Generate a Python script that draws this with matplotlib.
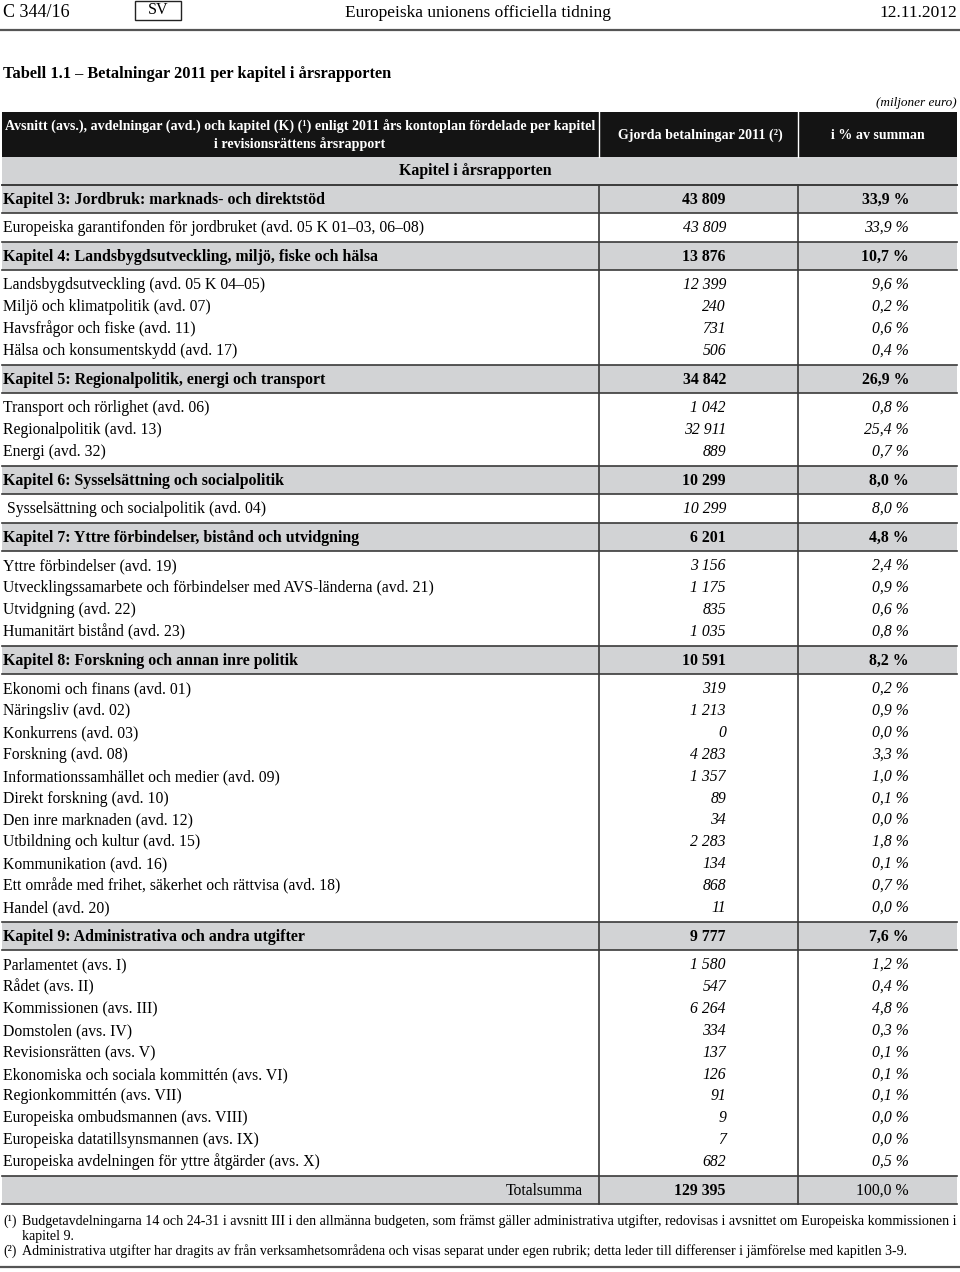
import matplotlib
matplotlib.use("Agg")
import matplotlib.pyplot as plt
from matplotlib.patches import Rectangle

plt.rcParams['font.family'] = ['Liberation Serif', 'DejaVu Serif']

# table data (miljoner euro)
chapter_names = [
    "Kapitel 3: Jordbruk: marknads- och direktstöd",
    "Kapitel 4: Landsbygdsutveckling, miljö, fiske och hälsa",
    "Kapitel 5: Regionalpolitik, energi och transport",
    "Kapitel 6: Sysselsättning och socialpolitik",
    "Kapitel 7: Yttre förbindelser, bistånd och utvidgning",
    "Kapitel 8: Forskning och annan inre politik",
    "Kapitel 9: Administrativa och andra utgifter",
]
chapter_amounts = [43809, 13876, 34842, 10299, 6201, 10591, 9777]
chapter_shares = [33.9, 10.7, 26.9, 8.0, 4.8, 8.2, 7.6]

sub_names = [
    ["Europeiska garantifonden för jordbruket (avd. 05 K 01–03, 06–08)"],
    ["Landsbygdsutveckling (avd. 05 K 04–05)",
     "Miljö och klimatpolitik (avd. 07)",
     "Havsfrågor och fiske (avd. 11)",
     "Hälsa och konsumentskydd (avd. 17)"],
    ["Transport och rörlighet (avd. 06)",
     "Regionalpolitik (avd. 13)",
     "Energi (avd. 32)"],
    [" Sysselsättning och socialpolitik (avd. 04)"],
    ["Yttre förbindelser (avd. 19)",
     "Utvecklingssamarbete och förbindelser med AVS-länderna (avd. 21)",
     "Utvidgning (avd. 22)",
     "Humanitärt bistånd (avd. 23)"],
    ["Ekonomi och finans (avd. 01)",
     "Näringsliv (avd. 02)",
     "Konkurrens (avd. 03)",
     "Forskning (avd. 08)",
     "Informationssamhället och medier (avd. 09)",
     "Direkt forskning (avd. 10)",
     "Den inre marknaden (avd. 12)",
     "Utbildning och kultur (avd. 15)",
     "Kommunikation (avd. 16)",
     "Ett område med frihet, säkerhet och rättvisa (avd. 18)",
     "Handel (avd. 20)"],
    ["Parlamentet (avs. I)",
     "Rådet (avs. II)",
     "Kommissionen (avs. III)",
     "Domstolen (avs. IV)",
     "Revisionsrätten (avs. V)",
     "Ekonomiska och sociala kommittén (avs. VI)",
     "Regionkommittén (avs. VII)",
     "Europeiska ombudsmannen (avs. VIII)",
     "Europeiska datatillsynsmannen (avs. IX)",
     "Europeiska avdelningen för yttre åtgärder (avs. X)"],
]
sub_amounts = [
    [43809],
    [12399, 240, 731, 506],
    [1042, 32911, 889],
    [10299],
    [3156, 1175, 835, 1035],
    [319, 1213, 0, 4283, 1357, 89, 34, 2283, 134, 868, 11],
    [1580, 547, 6264, 334, 137, 126, 91, 9, 7, 682],
]
sub_shares = [
    [33.9],
    [9.6, 0.2, 0.6, 0.4],
    [0.8, 25.4, 0.7],
    [8.0],
    [2.4, 0.9, 0.6, 0.8],
    [0.2, 0.9, 0.0, 3.3, 1.0, 0.1, 0.0, 1.8, 0.1, 0.7, 0.0],
    [1.2, 0.4, 4.8, 0.3, 0.1, 0.1, 0.1, 0.0, 0.0, 0.5],
]
total_amount = 129395
total_share = 100.0

footnote_1 = ("Budgetavdelningarna 14 och 24-31 i avsnitt III i den allmänna budgeten, som främst gäller "
              "administrativa utgifter, redovisas i avsnittet om Europeiska kommissionen i")
footnote_1b = "kapitel 9."
footnote_2 = ("Administrativa utgifter har dragits av från verksamhetsområdena och visas separat under egen "
              "rubrik; detta leder till differenser i jämförelse med kapitlen 3-9.")


def fmt_amount(v):
    return format(v, ",").replace(",", " ")


def fmt_share(v):
    return ("%.1f" % v).replace(".", ",") + " %"


W, H = 960, 1272
fig = plt.figure(figsize=(W / 100, H / 100), dpi=100)
ax = fig.add_axes([0, 0, 1, 1])
ax.set_xlim(0, W)
ax.set_ylim(H, 0)
ax.axis("off")

GRAY = "#d2d3d5"
LINE = "#3a3a3a"
FS = 11.3      # regular body text
FSB = 11.4     # bold chapter text
BL = 5         # baseline offset from row centre
left, right = 2, 957
col1, col2 = 599, 798
x_amt, x_pct = 726, 909


def put(x, yc, s, **kw):
    ax.text(x, round(yc) + BL, s, va="baseline", **kw)


# page header
put(3, 12, "C 344/16", fontsize=13, ha="left")
ax.add_patch(Rectangle((135, 1), 46, 19, fill=False, lw=1.0, ec="#222"))
put(158, 9, "SV", fontsize=11.5, ha="center")
put(478, 12, "Europeiska unionens officiella tidning", fontsize=12.5, ha="center")
put(957, 12, "12.11.2012", fontsize=12.5, ha="right")
ax.plot([0, 960], [30, 30], color="#555", lw=1.6)

put(3, 73, "Tabell 1.1 – Betalningar 2011 per kapitel i årsrapporten",
    fontsize=11.8, fontweight="bold", ha="left")
put(957, 101, "(miljoner euro)", fontsize=9.5, style="italic", ha="right")

# column header
ax.add_patch(Rectangle((left, 112), right - left, 45, color="#141414", lw=0))
ax.plot([col1, col1], [112, 157], color="white", lw=1.0)
ax.plot([col2, col2], [112, 157], color="white", lw=1.0)
put(300, 126, "Avsnitt (avs.), avdelningar (avd.) och kapitel (K) (¹) enligt 2011 års kontoplan fördelade per kapitel",
    fontsize=10.1, fontweight="bold", color="white", ha="center")
put(300, 143, "i revisionsrättens årsrapport",
    fontsize=10.1, fontweight="bold", color="white", ha="center")
put(700, 134, "Gjorda betalningar 2011 (²)", fontsize=10.1, fontweight="bold",
    color="white", ha="center")
put(878, 134, "i % av summan", fontsize=10.1, fontweight="bold",
    color="white", ha="center")

ax.add_patch(Rectangle((left, 157), right - left, 27, color=GRAY, lw=0))
put(475, 170, "Kapitel i årsrapporten", fontsize=FSB, fontweight="bold", ha="center")
ax.plot([left, right], [184.5, 184.5], color=LINE, lw=1.2)

# body rows
band_h = 28
step = 21.9
y = 185
for ci, name in enumerate(chapter_names):
    ax.add_patch(Rectangle((left, y), right - left, band_h, color=GRAY, lw=0))
    ax.plot([left, right], [y, y], color=LINE, lw=1.2)
    ax.plot([left, right], [y + band_h, y + band_h], color=LINE, lw=1.2)
    cy = y + band_h / 2
    put(3, cy, name, fontsize=FSB, fontweight="bold", ha="left")
    put(x_amt, cy, fmt_amount(chapter_amounts[ci]), fontsize=FSB, fontweight="bold", ha="right")
    put(x_pct, cy, fmt_share(chapter_shares[ci]), fontsize=FSB, fontweight="bold", ha="right")
    sy = y + band_h + 14
    for si, sname in enumerate(sub_names[ci]):
        yy = sy + si * step
        put(3, yy, sname, fontsize=FS, ha="left")
        put(x_amt, yy, fmt_amount(sub_amounts[ci][si]), fontsize=FS, style="italic", ha="right")
        put(x_pct, yy, fmt_share(sub_shares[ci][si]), fontsize=FS, style="italic", ha="right")
    y = round(sy + (len(sub_names[ci]) - 1) * step + 15)

# total row
ax.add_patch(Rectangle((left, y), right - left, band_h, color=GRAY, lw=0))
ax.plot([left, right], [y, y], color=LINE, lw=1.2)
ax.plot([left, right], [y + band_h, y + band_h], color=LINE, lw=1.2)
cy = y + band_h / 2
put(583, cy, "Totalsumma", fontsize=FS, ha="right")
put(x_amt, cy, fmt_amount(total_amount), fontsize=FSB, fontweight="bold", ha="right")
put(x_pct, cy, fmt_share(total_share), fontsize=FS, ha="right")
table_bottom = y + band_h

ax.plot([col1, col1], [184.5, table_bottom], color=LINE, lw=1.2)
ax.plot([col2, col2], [184.5, table_bottom], color=LINE, lw=1.2)

# footnotes
fy = table_bottom + 16
put(3, fy, "(¹)", fontsize=10, ha="left")
put(22, fy, footnote_1, fontsize=10.1, ha="left")
put(22, fy + 15, footnote_1b, fontsize=10.1, ha="left")
put(3, fy + 30, "(²)", fontsize=10, ha="left")
put(22, fy + 30, footnote_2, fontsize=10.1, ha="left")
ax.plot([0, 960], [1267, 1267], color="#555", lw=1.6)

fig.savefig("out.png", dpi=100)
